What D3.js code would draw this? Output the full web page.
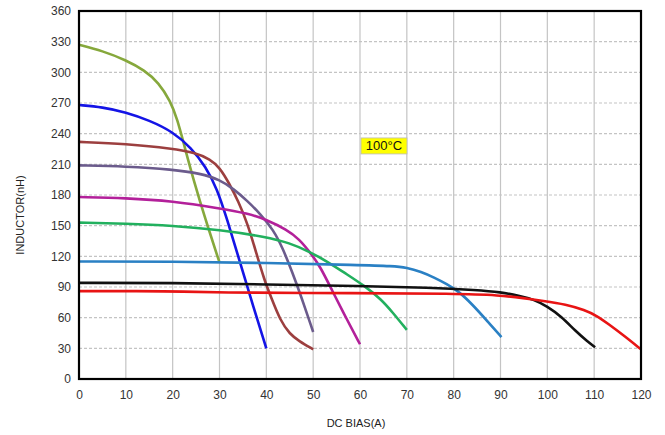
<!DOCTYPE html>
<html><head><meta charset="utf-8">
<script src="https://cdn.jsdelivr.net/npm/d3@7"></script>
<style>body{margin:0;background:#fff;}svg{display:block;font-family:"Liberation Sans",Arial,sans-serif;}</style>
</head><body>
<svg id="c" width="665" height="435"></svg>
<script>
const xTicks = [0,10,20,30,40,50,60,70,80,90,100,110,120];
const yTicks = [0,30,60,90,120,150,180,210,240,270,300,330,360];
const seriesColors = ["#86a83c","#1414e6","#9c3f3f","#6b5b8c","#b3209a","#22b05e","#2a80c4","#111111","#e81414"];
const olive = [[0,327],[5,321],[10,312],[14,302],[17,290],[19.5,272],[21,254],[22.5,228],[24.5,194],[27,156],[30,114]];
const blue = [[0,268],[5,266],[10,261],[15,253],[20,242],[24,226],[27,208],[29.5,186],[31.5,158],[34.4,114],[37.2,71],[40,30]];
const brown = [[0,232],[10,230],[20,225.5],[25,221],[28,215],[30,207],[32,192],[34,174],[36,152],[38,121],[39.5,98],[41,80],[43,57],[45,44],[47,37],[50,29]];
const purple = [[0,209],[10,208],[20,205],[26,201],[30,195],[33,186],[36,174],[38.6,162],[41.5,146],[43.5,128],[45.5,105],[47.5,80],[50,46]];
const magenta = [[0,178],[10,177],[20,174],[30,167],[36,162],[40,156],[44.4,146],[47,137],[49.5,123],[51.5,110],[54,87],[57,60],[60,34]];
const green = [[0,153],[10,152],[20,150],[30,146],[40,139],[45,133],[49,125],[53,115],[57,103],[61,91],[64.5,78],[67,65],[70,48]];
const lightblue = [[0,115],[20,115],[40,113.5],[60,111.5],[67,110.5],[70,109],[73,105],[76,99],[78.5,93],[81,86],[84,73],[87.5,55],[90.2,41]];
const black = [[0,94],[20,94],[40,92.5],[60,91],[75,89.5],[85,87],[90,85],[94,81.5],[97,78],[100,71],[103,61],[106,47],[108.5,37],[110.2,31]];
const red = [[0,86],[20,86],[28,84.5],[60,84],[80,83.5],[90,82],[95,79],[99,76.5],[104,73],[108,67.5],[110.5,62],[113,54],[116.5,42],[120,29]];
const seriesData = [olive,blue,brown,purple,magenta,green,lightblue,black,red];
const labelText = "100\u00b0C";
const labelPos = [60,228];

const svg = d3.select("#c");
const L=79, R=641, T=11, B=379;
const x = d3.scaleLinear().domain([0,120]).range([L,R]);
const y = d3.scaleLinear().domain([0,360]).range([B,T]);

// gridlines
svg.append("g").selectAll("line").data(xTicks.slice(1,-1)).join("line")
  .attr("x1",d=>x(d)).attr("x2",d=>x(d)).attr("y1",T).attr("y2",B)
  .attr("stroke","#c4c4c4").attr("stroke-width",1.2);
svg.append("g").selectAll("line").data(yTicks.slice(1,-1)).join("line")
  .attr("x1",L).attr("x2",R).attr("y1",d=>y(d)).attr("y2",d=>y(d))
  .attr("stroke","#c4c4c4").attr("stroke-width",1.2).attr("stroke-dasharray","3,2");

// label box
const lb = svg.append("g");
lb.append("rect").attr("x",x(labelPos[0])+1).attr("y",y(labelPos[1])-8)
  .attr("width",46).attr("height",16).attr("fill","#ffff00").attr("stroke","#bbb").attr("stroke-width",0.8);
lb.append("text").attr("x",x(labelPos[0])+24).attr("y",y(labelPos[1])+4.5)
  .attr("text-anchor","middle").attr("font-size",13).attr("fill","#111").text(labelText);

// curves
const line = d3.line().x(d=>x(d[0])).y(d=>y(d[1])).curve(d3.curveBasis);
svg.append("g").selectAll("path").data(seriesData).join("path")
  .attr("d",line).attr("fill","none")
  .attr("stroke",(d,i)=>seriesColors[i]).attr("stroke-width",2.6).attr("stroke-linejoin","round");

// border
svg.append("rect").attr("x",L).attr("y",T).attr("width",R-L).attr("height",B-T)
  .attr("fill","none").attr("stroke","#000").attr("stroke-width",2.2);

// axes
const ax = svg.append("g").attr("transform",`translate(0,${B})`)
  .call(d3.axisBottom(x).tickValues(xTicks).tickSize(0).tickPadding(11));
ax.select(".domain").remove();
ax.selectAll("text").attr("font-size",12).attr("fill","#333").attr("font-family","Liberation Sans, Arial, sans-serif");
const ay = svg.append("g").attr("transform",`translate(${L},0)`)
  .call(d3.axisLeft(y).tickValues(yTicks).tickSize(0).tickPadding(8));
ay.select(".domain").remove();
ay.selectAll("text").attr("font-size",12).attr("fill","#333").attr("font-family","Liberation Sans, Arial, sans-serif");

svg.append("text").attr("x",356).attr("y",427).attr("text-anchor","middle")
  .attr("font-size",11).attr("fill","#222").text("DC BIAS(A)");
svg.append("text").attr("transform","translate(24,215) rotate(-90)").attr("text-anchor","middle")
  .attr("font-size",11).attr("fill","#222").text("INDUCTOR(nH)");
</script>
</body></html>
